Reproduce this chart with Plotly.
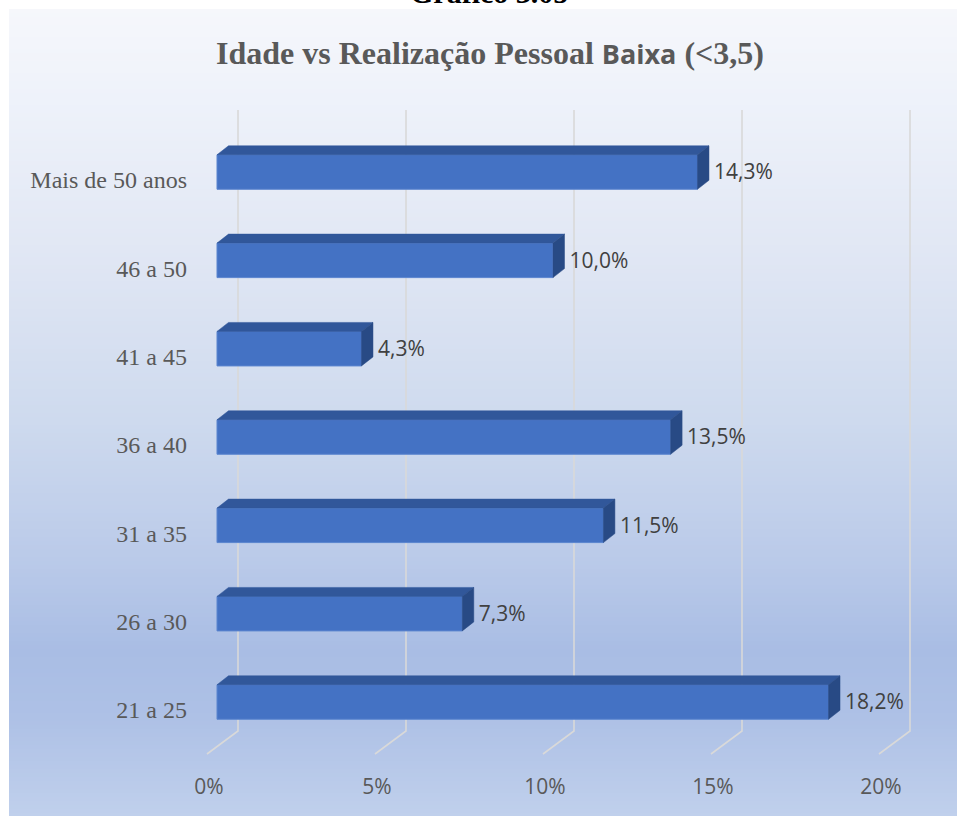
import plotly.graph_objects as go

# ---------------- data ----------------
categories = ["21 a 25", "26 a 30", "31 a 35", "36 a 40", "41 a 45", "46 a 50", "Mais de 50 anos"]
values = [18.2, 7.3, 11.5, 13.5, 4.3, 10.0, 14.3]
tick_values = [0, 5, 10, 15, 20]
tick_labels = ["0%", "5%", "10%", "15%", "20%"]
title_main = "Idade vs Realização Pessoal "
title_sans = "Baixa"
title_end = " (&lt;3,5)"
header_text = "Gráfico 3.05"

# ---------------- geometry (pixels) ----------------
W, H = 957, 816
L, R, T, B = 196, 0, 90, 50
PW, PH = W - L - R, H - T - B
X0 = 217.0          # pixel of value 0 on bar front
SX = 33.6           # pixels per percent
Y0 = 702.0          # pixel of first category centre
SY = 88.33          # pixels per category step

def xv(p):  # pixel -> front x value
    return (p - X0) / SX

def yv(p):  # pixel -> y value
    return (Y0 - p) / SY

xr = [xv(L), xv(W - R)]
yr = [yv(H - B), yv(T)]

half = 17.25 / SY
dx, dy = 11.5 / SX, 9.0 / SY
wall_dx = 21.0 / SX
floor_front_dx = -10.0 / SX
grid_top, grid_bot, floor_front = yv(110), yv(731), yv(754)
label_shift = 8.0 / SX
label_gap = 5.0 / SX

ypos = list(range(len(categories)))

fig = go.Figure()

# background gradient (white frame at top/left)
stops = [(9, (246, 247, 251)), (100, (238, 242, 250)), (250, (225, 231, 244)),
         (420, (206, 218, 238)), (560, (186, 202, 233)), (650, (169, 189, 228)),
         (720, (174, 193, 230)), (816, (192, 208, 236))]
def col_at(y):
    for (y1, c1), (y2, c2) in zip(stops[:-1], stops[1:]):
        if y1 <= y <= y2:
            t = (y - y1) / (y2 - y1)
            return tuple(int(round(a + (b - a) * t)) for a, b in zip(c1, c2))
    return stops[-1][1]
band = 4
yy = 9
while yy < H:
    c = col_at(yy + band / 2)
    fig.add_shape(type="rect", xref="paper", yref="paper", layer="below",
                  x0=(9 - L) / PW, x1=(W - L) / PW,
                  y0=1 - (min(yy + band + 1, H) - T) / PH, y1=1 - (yy - T) / PH,
                  line=dict(width=0), fillcolor="rgb(%d,%d,%d)" % c)
    yy += band

# back-wall gridlines and floor edges (below the bars)
for t in tick_values:
    fig.add_shape(type="path", xref="x", yref="y", layer="below",
                  path="M %f,%f L %f,%f L %f,%f" % (t + wall_dx, grid_top, t + wall_dx, grid_bot,
                                                   t + floor_front_dx, floor_front),
                  line=dict(color="#D9D9D9", width=1.6))

# front faces
fig.add_trace(go.Bar(x=values, y=ypos, orientation="h", width=2 * half,
                     marker=dict(color="#4472C4", line=dict(color="#5B85CF", width=1)),
                     showlegend=False))

# top faces
tx, ty = [], []
for v, i in zip(values, ypos):
    tx += [0, v, v + dx, dx, 0, None]
    ty += [i + half, i + half, i + half + dy, i + half + dy, i + half, None]
fig.add_trace(go.Scatter(x=tx, y=ty, mode="lines", fill="toself", fillcolor="#31579A",
                         line=dict(width=0.5, color="#31579A"), hoverinfo="skip", showlegend=False))

# side faces
sx_, sy_ = [], []
for v, i in zip(values, ypos):
    sx_ += [v, v + dx, v + dx, v, v, None]
    sy_ += [i - half, i - half + dy, i + half + dy, i + half, i - half, None]
fig.add_trace(go.Scatter(x=sx_, y=sy_, mode="lines", fill="toself", fillcolor="#284A85",
                         line=dict(width=0.5, color="#284A85"), hoverinfo="skip", showlegend=False))

# data labels
fig.add_trace(go.Scatter(x=[v + dx + label_gap for v in values], y=[i - 2.0 / SY for i in ypos],
                         mode="text",
                         text=[f"{v:.1f}".replace(".", ",") + "%" for v in values],
                         textposition="middle right",
                         textfont=dict(family="Open Sans", size=21, color="#404040"),
                         hoverinfo="skip", showlegend=False))

# carrier for tick-label axis
fig.add_trace(go.Scatter(x=[tick_values[0]], y=[ypos[0]], xaxis="x2", mode="markers",
                         marker=dict(opacity=0), hoverinfo="skip", showlegend=False))

fig.update_layout(
    width=W, height=H,
    margin=dict(l=L, r=R, t=T, b=B),
    paper_bgcolor="white", plot_bgcolor="rgba(0,0,0,0)",
    xaxis=dict(range=xr, showgrid=False, zeroline=False, showticklabels=False, fixedrange=True),
    xaxis2=dict(range=[xr[0] + label_shift, xr[1] + label_shift], overlaying="x", side="bottom",
                tickvals=tick_values, ticktext=tick_labels, showgrid=False, zeroline=False,
                ticks="", ticklabelstandoff=6,
                tickfont=dict(family="Open Sans", size=21, color="#595959")),
    yaxis=dict(range=yr, tickvals=ypos, ticktext=categories, showgrid=False, zeroline=False,
               ticks="", ticklabelstandoff=8, ticklabelshift=8,
               tickfont=dict(family="Liberation Serif", size=24, color="#595959")),
    title=dict(text="<b>" + title_main + "<span style='font-family:Open Sans;font-size:27px'>" +
                    title_sans + "</span>" + title_end + "</b>",
               x=490 / W, xanchor="center", y=1 - 53 / H, yanchor="middle",
               font=dict(family="Liberation Serif", size=32, color="#595959")),
    annotations=[dict(text="<b>" + header_text + "</b>", xref="paper", yref="paper",
                      x=(489 - L) / PW, y=1 - (10.5 - T) / PH, xanchor="center", yanchor="bottom",
                      showarrow=False, font=dict(family="Liberation Serif", size=30, color="black"))],
)

fig.write_html("out.html")
